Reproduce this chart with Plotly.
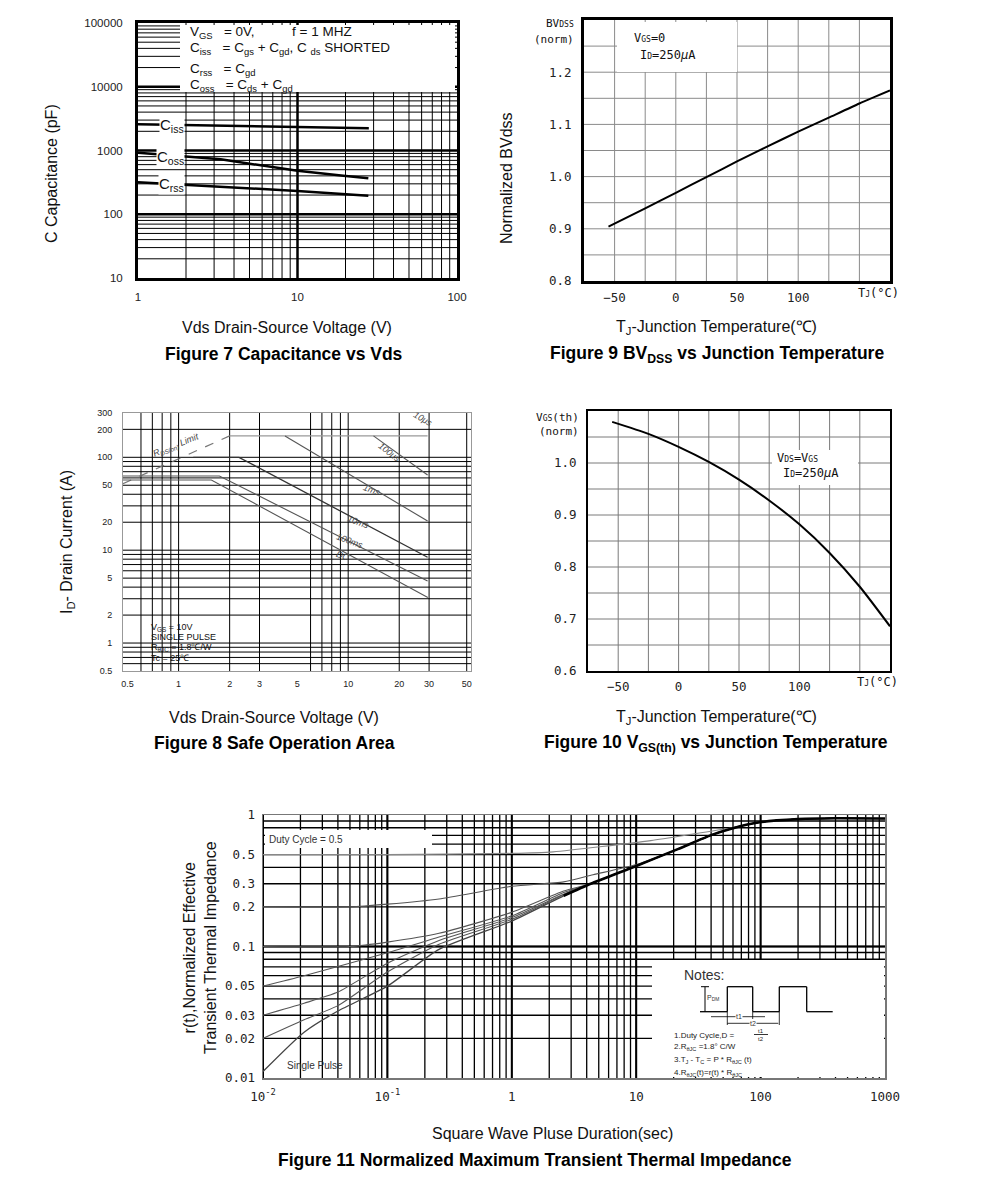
import math
import plotly.graph_objects as go

W, H = 991, 1179
SANS = "Liberation Sans, Arial, sans-serif"
MONO = "DejaVu Sans Mono, monospace"

# ---------------- Data ----------------
# Figure 7 : capacitance vs Vds
vds_ciss = [1, 3, 10, 28]
ciss = [2580, 2450, 2370, 2230]
vds_coss = [1, 2, 3.3, 4.8, 10, 19.4, 27.8]
coss = [925, 800, 728, 630, 483, 403, 366]
vds_crss = [1, 2.07, 5, 10, 27.8]
crss = [317, 288, 255, 232, 195]
cap_ticks = [10, 100, 1000, 10000, 100000]
vds_ticks7 = [1, 10, 100]

# Figure 9 : BVdss vs Tj
tj_bv = [-55, -25, 0, 25, 50, 75, 100, 125, 150, 175]
bv_norm = [0.904, 0.939, 0.969, 0.999, 1.029, 1.058, 1.086, 1.113, 1.140, 1.165]

# Figure 10 : Vgs(th) vs Tj
tj_vth = [-55, -25, 0, 25, 50, 75, 100, 125, 150, 175]
vth_norm = [1.079, 1.056, 1.031, 1.002, 0.968, 0.928, 0.882, 0.827, 0.762, 0.686]
temp_ticks = [-50, 0, 50, 100]
temp_ticktext = ["\u221250", "0", "50", "100"]

# Figure 8 : safe operating area
soa_dc_v, soa_dc_i = [0.47, 1.56, 29.5], [57, 57, 3.1]
soa_100ms_v, soa_100ms_i = [0.47, 1.74, 29.4], [63, 63, 4.65]
soa_10ms_v, soa_10ms_i = [1.22, 2.27, 29.4], [100, 100, 8.4]
soa_1ms_v, soa_1ms_i = [4.24, 29.4], [170, 20.6]
soa_100us_v, soa_100us_i = [14.1, 29.4], [170, 64.6]
soa_top_v, soa_top_i = [2.0, 29.4], [170, 170]
rds_v, rds_i = [0.47, 2.0], [52, 170]
soa_xticks = [0.5, 1, 2, 3, 5, 10, 20, 30, 50]
soa_yticks = [0.5, 1, 2, 5, 10, 20, 50, 100, 200, 300]
soa_xgrid = [0.6, 0.7, 0.8, 0.9, 1, 2, 3, 6, 7, 8, 9, 10, 20, 30, 50]

# Figure 11 : transient thermal impedance
t_main = [2.61, 4.3, 10, 21.6, 39.5, 59, 98, 200, 400, 1000]
r_main = [0.243, 0.30, 0.41, 0.55, 0.70, 0.79, 0.88, 0.93, 0.945, 0.94]
t_single = [0.01, 0.0214, 0.040, 0.1, 0.26, 1, 2.61]
r_single = [0.0112, 0.0223, 0.0323, 0.05, 0.095, 0.156, 0.243]
r_d001 = [0.02, 0.0277, 0.0355, 0.064, 0.104, 0.161, 0.247]
r_d002 = [0.03, 0.037, 0.045, 0.0745, 0.111, 0.166, 0.25]
t_d005 = [0.01, 0.0214, 0.1, 0.26, 1, 2.61]
r_d005 = [0.05, 0.060, 0.0896, 0.118, 0.171, 0.257]
t_d01 = [0.01, 0.05, 0.1, 0.26, 1, 2.61]
r_d01 = [0.1, 0.1, 0.108, 0.126, 0.182, 0.264]
t_d02 = [0.01, 0.05, 0.1, 0.26, 1, 2.61, 4.5, 10]
r_d02 = [0.2, 0.2, 0.21, 0.23, 0.287, 0.31, 0.351, 0.42]
t_d05 = [0.01, 0.1, 1, 2.15, 13.1, 27.8, 59]
r_d05 = [0.5, 0.5, 0.51, 0.525, 0.639, 0.713, 0.80]
zth_xticks = [0.01, 0.1, 1, 10, 100, 1000]
zth_xtext = ["10<sup>-2</sup>", "10<sup>-1</sup>", "1", "10", "100", "1000"]
zth_yticks = [0.01, 0.02, 0.03, 0.05, 0.1, 0.2, 0.3, 0.5, 1]

# ---------------- helpers ----------------
fig = go.Figure()


def dom_x(l, r):
    return [l / W, r / W]


def dom_y(t, b):
    return [1 - b / H, 1 - t / H]


def log_grid(lo_dec, hi_dec, vmin, vmax):
    vals = []
    for k in range(lo_dec, hi_dec + 1):
        for m in range(1, 10):
            v = m * 10.0 ** k
            if vmin * 1.0001 < v < vmax * 0.9999:
                vals.append(v)
    return vals


def grid(xs, ys, xr, yr, xa, ya, color, width):
    X, Y = [], []
    for v in xs:
        X += [v, v, None]
        Y += [yr[0], yr[1], None]
    for v in ys:
        X += [xr[0], xr[1], None]
        Y += [v, v, None]
    fig.add_trace(go.Scatter(x=X, y=Y, xaxis=xa, yaxis=ya, mode="lines",
                             line=dict(color=color, width=width), hoverinfo="skip"))


def curve(x, y, xa, ya, color="black", width=2, dash="solid", smooth=False):
    line = dict(color=color, width=width, dash=dash)
    if smooth:
        line.update(shape="spline", smoothing=0.6)
    fig.add_trace(go.Scatter(x=x, y=y, xaxis=xa, yaxis=ya, mode="lines", line=line,
                             hoverinfo="skip"))


annotations = []
shapes = []


def A(text, x, y, size=12, family=SANS, color="#111", xanchor="center", yanchor="middle",
      angle=0, bg=None):
    d = dict(text=text, x=x / W, y=1 - y / H, xref="paper", yref="paper", showarrow=False,
             font=dict(size=size, family=family, color=color), xanchor=xanchor, yanchor=yanchor,
             textangle=angle)
    if bg:
        d["bgcolor"] = bg
        d["borderpad"] = 0
    annotations.append(d)


def box(x0, y0, x1, y1, fill="white"):
    shapes.append(dict(type="rect", xref="paper", yref="paper", x0=x0 / W, x1=x1 / W,
                       y0=1 - y1 / H, y1=1 - y0 / H, fillcolor=fill, layer="above",
                       line=dict(width=0)))


def seg(x0, y0, x1, y1, color="black", width=1):
    shapes.append(dict(type="line", xref="paper", yref="paper", x0=x0 / W, x1=x1 / W,
                       y0=1 - y0 / H, y1=1 - y1 / H, layer="above",
                       line=dict(color=color, width=width)))


# ---------------- Figure 7 ----------------
grid(log_grid(0, 1, 1, 100), log_grid(1, 4, 10, 100000), [1, 100], [10, 100000], "x", "y", "black", 1)
grid([10], [100, 1000, 10000], [1, 100], [10, 100000], "x", "y", "black", 2.5)
curve(vds_ciss, ciss, "x", "y", width=2.5)
curve(vds_coss, coss, "x", "y", width=2.5)
curve(vds_crss, crss, "x", "y", width=2.5)

# ---------------- Figure 9 ----------------
grid(list(range(-50, 151, 25)), [0.85, 0.9, 0.95, 1.0, 1.05, 1.1, 1.15, 1.2, 1.25],
     [-75, 175], [0.8, 1.3], "x2", "y2", "#8a8a8a", 1)
curve(tj_bv, bv_norm, "x2", "y2", width=2, smooth=True)

# ---------------- Figure 8 ----------------
grid(soa_xgrid, log_grid(-1, 2, 0.5, 300), [0.47, 53], [0.5, 300], "x3", "y3", "black", 1)
curve(soa_top_v, soa_top_i, "x3", "y3", color="#9a9a9a", width=1.2)
curve(rds_v, rds_i, "x3", "y3", color="#777", width=1.2, dash="dash")
curve(soa_dc_v, soa_dc_i, "x3", "y3", color="#555", width=1.1)
curve(soa_100ms_v, soa_100ms_i, "x3", "y3", color="#555", width=1.1)
curve(soa_10ms_v, soa_10ms_i, "x3", "y3", color="#333", width=1.3)
curve(soa_1ms_v, soa_1ms_i, "x3", "y3", color="#555", width=1.1)
curve(soa_100us_v, soa_100us_i, "x3", "y3", color="#555", width=1.1)

# ---------------- Figure 10 ----------------
grid(list(range(-50, 151, 25)), [0.65, 0.7, 0.75, 0.8, 0.85, 0.9, 0.95, 1.0, 1.05],
     [-75, 175], [0.6, 1.1], "x4", "y4", "#7a7a7a", 1)
curve(tj_vth, vth_norm, "x4", "y4", width=2, smooth=True)

# ---------------- Figure 11 ----------------
grid(log_grid(-2, 2, 0.01, 1000), log_grid(-2, -1, 0.01, 1), [0.01, 1000], [0.01, 1],
     "x5", "y5", "black", 1.3)
grid([0.01, 0.1, 1, 10, 100], [0.1], [0.01, 1000], [0.01, 1], "x5", "y5", "black", 2)


def with_tail(t, r, t_start):
    tt = list(t) + [v for v in t_main if v >= t_start]
    rr = list(r) + [r_main[i] for i, v in enumerate(t_main) if v >= t_start]
    return tt, rr


curve(*with_tail(t_d05, r_d05, 98), "x5", "y5", color="#888", width=1.2, smooth=True)
for tt, rr in [with_tail(t_d02, r_d02, 21.6), with_tail(t_d01, r_d01, 4.3),
               with_tail(t_d005, r_d005, 4.3), with_tail(t_single, r_d002, 4.3),
               with_tail(t_single, r_d001, 4.3)]:
    curve(tt, rr, "x5", "y5", color="#555", width=1.1, smooth=True)
curve(*with_tail(t_single, r_single, 4.3), "x5", "y5", color="#444", width=1.3, smooth=True)
curve(t_main, r_main, "x5", "y5", color="black", width=2.6, smooth=True)


# ---------------- axes ----------------
def ax(domain, rng, typ, anchor, tickvals, ticktext, size, family, line_w, line_c, standoff):
    return dict(domain=domain, range=rng, type=typ, anchor=anchor, showgrid=False, zeroline=False,
                ticks="", tickvals=tickvals, ticktext=ticktext, fixedrange=True, automargin=False,
                tickfont=dict(size=size, family=family, color="#222"),
                showline=True, mirror=True, linewidth=line_w, linecolor=line_c,
                ticklabelstandoff=standoff)


lg = math.log10
layout_axes = dict(
    xaxis=ax(dom_x(138, 457), [0, 2], "log", "y", vds_ticks7, [str(v) for v in vds_ticks7], 11.5, SANS, 3, "black", 6),
    yaxis=ax(dom_y(23, 278), [1, 5], "log", "x", cap_ticks, [str(v) for v in cap_ticks], 11.5, SANS, 3, "black", 10),
    xaxis2=ax(dom_x(584, 890), [-75, 175], "linear", "y2", temp_ticks, temp_ticktext, 12.5, MONO, 3, "black", 3),
    yaxis2=ax(dom_y(20, 281), [0.8, 1.3], "linear", "x2", [0.8, 0.9, 1.0, 1.1, 1.2],
              ["0.8", "0.9", "1.0", "1.1", "1.2"], 12.5, MONO, 3, "black", 7),
    xaxis3=ax(dom_x(123, 471), [lg(0.47), lg(53)], "log", "y3", soa_xticks, [str(v) for v in soa_xticks], 9, SANS, 1, "#999", 4),
    yaxis3=ax(dom_y(413, 671), [lg(0.5), lg(300)], "log", "x3", soa_yticks, [str(v) for v in soa_yticks], 9, SANS, 1, "#999", 8),
    xaxis4=ax(dom_x(588, 890), [-75, 175], "linear", "y4", temp_ticks, temp_ticktext, 12.5, MONO, 2, "black", 3),
    yaxis4=ax(dom_y(411, 671), [0.6, 1.1], "linear", "x4", [0.6, 0.7, 0.8, 0.9, 1.0],
              ["0.6", "0.7", "0.8", "0.9", "1.0"], 12.5, MONO, 2, "black", 7),
    xaxis5=ax(dom_x(263, 885), [-2, 3], "log", "y5", zth_xticks, zth_xtext, 12.5, MONO, 1.5, "#777", 6),
    yaxis5=ax(dom_y(815, 1078), [-2, 0], "log", "x5", zth_yticks, [str(v) for v in zth_yticks], 12.5, MONO, 1.5, "#777", 4),
)

# ---------------- boxes & decorations ----------------
box(180, 25, 455, 92)              # fig 7 legend
box(617, 22, 737, 72)              # fig 9 text box
box(772, 450, 858, 485)            # fig 10 text box
box(265, 830, 432, 848)            # fig 11 duty cycle label
box(652, 960, 884, 1077)           # fig 11 notes

# pulse waveform in notes
px_ = [700, 727.3, 727.3, 752.7, 752.7, 779.3, 779.3, 806.7, 806.7, 832.7]
py_ = [1011.7, 1011.7, 986.7, 986.7, 1011.7, 1011.7, 986.7, 986.7, 1011.7, 1011.7]
for i in range(len(px_) - 1):
    seg(px_[i], py_[i], px_[i + 1], py_[i + 1], width=1.3)
seg(705, 986.7, 705, 1011.7, width=1)
seg(701, 986.7, 709, 986.7, width=1)
seg(711, 1016.7, 765, 1016.7, width=0.8)
seg(727.3, 1023.3, 778.3, 1023.3, width=0.8)
seg(727.3, 1011.7, 727.3, 1025, width=0.8)
seg(752.7, 1011.7, 752.7, 1019, width=0.8)
seg(779.3, 1011.7, 779.3, 1025, width=0.8)
seg(754, 1034.5, 768, 1034.5, width=0.8)

# ---------------- texts ----------------
NB = "\u00a0"
SB = "<span style='font-size:10.5px'>%s</span>"
# fig 7
A("C Capacitance (pF)", 52, 174, 16, angle=-90)
A("Vds Drain-Source Voltage (V)", 287, 327, 16)
A("<b>Figure 7 Capacitance vs Vds</b>", 284, 354, 17.5, color="#000")
A("V<sub>GS</sub>" + NB * 3 + "= 0V," + NB * 10 + "f = 1 MHZ", 188, 32, 13.5, xanchor="left")
A("C<sub>iss</sub>" + NB * 3 + "= C<sub>gs</sub> + C<sub>gd</sub>," + NB + "C" + NB + "<sub>ds</sub> SHORTED", 188, 49, 13.5, xanchor="left")
A("C<sub>rss</sub>" + NB * 3 + "= C<sub>gd</sub>", 188, 69, 13.5, xanchor="left")
A("C<sub>oss</sub>" + NB * 3 + "= C<sub>ds</sub> + C<sub>gd</sub>", 188, 85, 13.5, xanchor="left")
A("C<sub>iss</sub>", 172, 126, 15, bg="white")
A("C<sub>oss</sub>", 170, 157, 15, bg="white")
A("C<sub>rss</sub>", 171, 184, 15, bg="white")

# fig 9
SM = "<span style='font-size:8px'>%s</span>"
A("Normalized BVdss", 506, 178, 16, angle=-90)
A("BV" + SM % "DSS", 576, 24, 11, MONO, xanchor="right")
A("(norm)", 576, 40, 11, MONO, xanchor="right")
A("V" + SM % "GS" + "=0", 632, 38, 12, MONO, xanchor="left")
A("I" + SM % "D" + "=250<i>\u03bc</i>A", 638, 55, 12, MONO, xanchor="left")
A("T" + SM % "J" + "(\u00b0C)", 878, 293, 12, MONO)
A("T<sub>J</sub>-Junction Temperature(\u2103)", 716, 327, 16)
A("<b>Figure 9 BV<sub>DSS</sub> vs Junction Temperature</b>", 717, 354, 17.5, color="#000")

# fig 8
A("I<sub>D</sub>- Drain Current (A)", 67, 542, 16, angle=-90)
A("Vds Drain-Source Voltage (V)", 274, 717, 16)
A("<b>Figure 8 Safe Operation Area</b>", 274, 743, 17.5, color="#000")
A("V<sub>GS</sub> = 10V", 149, 627, 9, xanchor="left")
A("SINGLE PULSE", 149, 637, 9, xanchor="left")
A("R<sub>\u03b8JC</sub> = 1.8\u2103/W", 149, 647, 9, xanchor="left")
A("Tc = 25\u2103", 149, 658, 9, xanchor="left")
A("<i>R<sub>DS(on)</sub> Limit</i>", 176, 446, 9, color="#444", angle=-22)
A("<i>10\u03bcs</i>", 423, 419, 9, color="#444", angle=30)
A("<i>100\u03bcs</i>", 389, 452, 9, color="#444", angle=38)
A("<i>1ms</i>", 372, 490, 9, color="#444", angle=20)
A("<i>10ms</i>", 358, 522, 9, color="#444", angle=20)
A("<i>100ms</i>", 350, 541, 9, color="#444", angle=20)
A("<i>DC</i>", 343, 556, 9, color="#444", angle=20)

# fig 10
A("V" + SM % "GS" + "(th)", 581, 417, 11, MONO, xanchor="right")
A("(norm)", 581, 432, 11, MONO, xanchor="right")
A("V" + SM % "DS" + "=V" + SM % "GS", 775, 458, 12, MONO, xanchor="left")
A("I" + SM % "D" + "=250<i>\u03bc</i>A", 781, 473, 12, MONO, xanchor="left")
A("T" + SM % "J" + "(\u00b0C)", 877, 682, 12, MONO)
A("T<sub>J</sub>-Junction Temperature(\u2103)", 716, 717, 16)
A("<b>Figure 10 V<sub>GS(th)</sub> vs Junction Temperature</b>", 716, 743, 17.5, color="#000")

# fig 11
A("r(t),Normalized Effective<br>Transient Thermal Impedance", 200, 948, 16, angle=-90)
A("Duty Cycle = 0.5", 267, 839, 10, xanchor="left", color="#333")
A("Single Pulse", 285, 1065, 10, xanchor="left", color="#333")
A("Notes:", 682, 975, 14, xanchor="left", color="#333")
A("P<sub>DM</sub>", 713, 998, 7, color="#333")
A("t1", 739, 1016.7, 7, color="#333", bg="white")
A("t2", 753, 1023.3, 7, color="#333", bg="white")
A("1.Duty Cycle,D = ", 672, 1035, 8, xanchor="left", color="#222")
A("t1", 761, 1030.5, 6, color="#222")
A("t2", 761, 1038.5, 6, color="#222")
A("2.R<sub>\u03b8JC</sub> =1.8\u00b0 C/W", 672, 1047, 8, xanchor="left", color="#222")
A("3.T<sub>J</sub> - T<sub>C</sub> = P * R<sub>\u03b8JC</sub> (t)", 672, 1060, 8, xanchor="left", color="#222")
A("4.R<sub>\u03b8JC</sub>(t)=r(t) * R<sub>\u03b8JC</sub>", 672, 1073, 8, xanchor="left", color="#222")
A("Square Wave Pluse Duration(sec)", 552, 1133, 16)
A("<b>Figure 11 Normalized Maximum Transient Thermal Impedance</b>", 535, 1160, 17.5, color="#000")

fig.update_layout(
    template="none",
    width=W, height=H, margin=dict(l=0, r=0, t=0, b=0, pad=0, autoexpand=False),
    paper_bgcolor="white", plot_bgcolor="white", showlegend=False,
    annotations=annotations, shapes=shapes,
    font=dict(family=SANS, color="#111"),
    **layout_axes,
)

fig.write_html("out.html", config={"displayModeBar": False, "staticPlot": True},
               post_script="document.body.style.margin='0';document.body.style.overflow='hidden';")
